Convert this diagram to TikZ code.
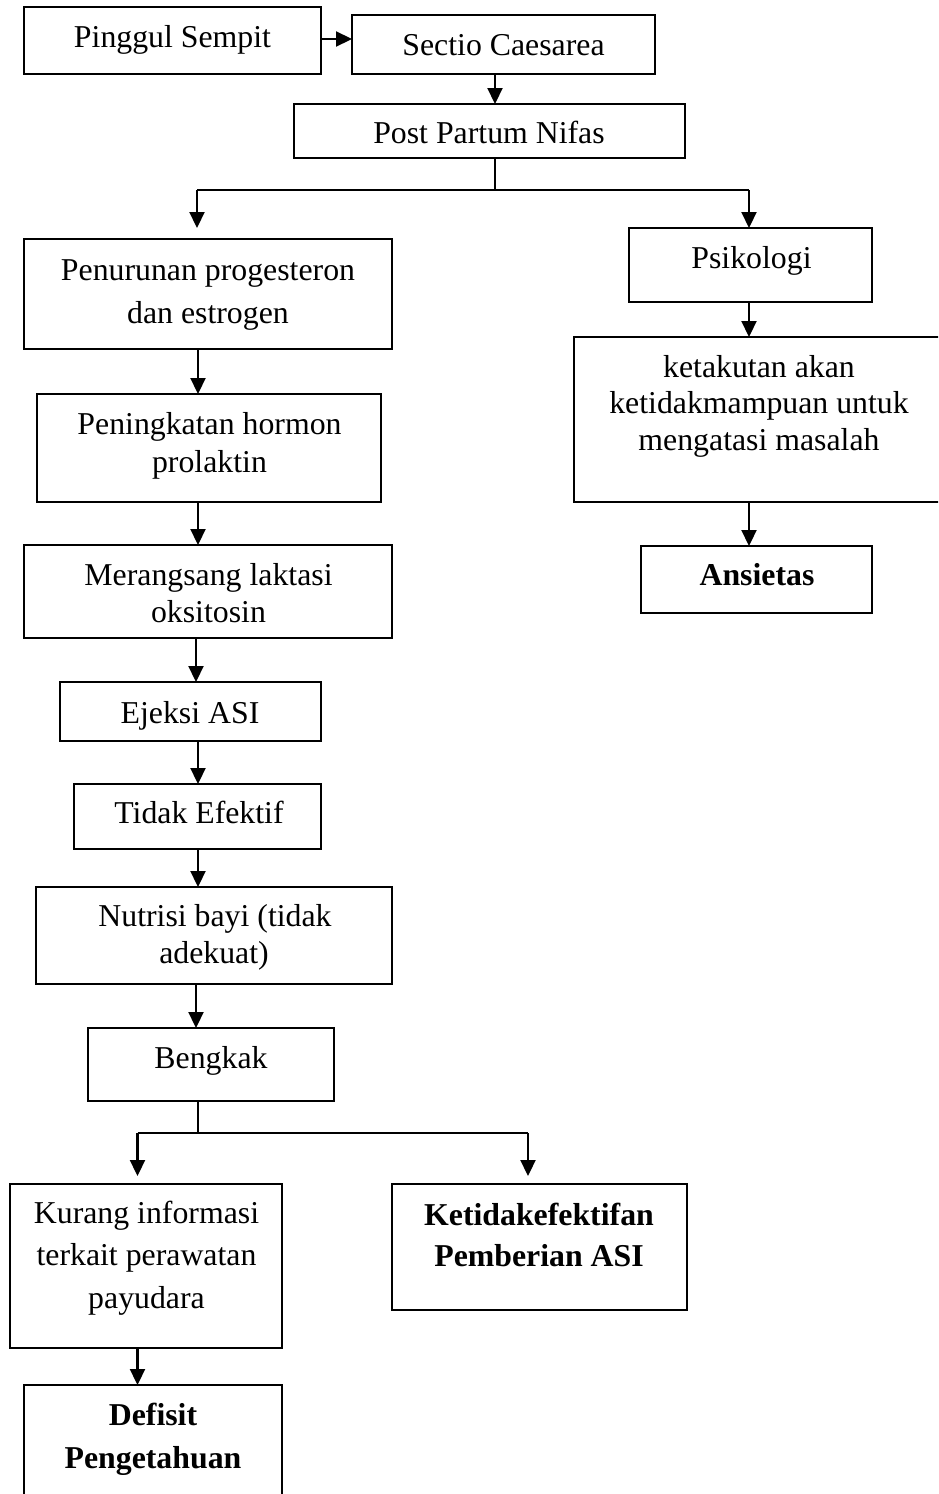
\documentclass[tikz,border=0pt]{standalone}
\usepackage{fontspec}
\setmainfont{Liberation Serif}
\usetikzlibrary{arrows.meta}
\begin{document}
\begin{tikzpicture}[x=1pt,y=-1pt,
  box/.style={draw, line width=1.8pt, rectangle, inner sep=0pt, outer sep=0pt},
  txt/.style={anchor=base, inner sep=0pt, font=\fontsize{31.8}{38}\selectfont},
  btxt/.style={anchor=base, inner sep=0pt, font=\fontsize{31.8}{38}\selectfont\bfseries},
  arr/.style={line width=2.2pt, -{Triangle[length=16pt,width=15pt]}},
  ln/.style={line width=1.6pt}]
\useasboundingbox (0,0) rectangle (938,1494);
\clip (0,0) rectangle (938,1494);
% boxes
\node[box, minimum width=297pt, minimum height=67pt]  (pinggul)     at (172.5,40.5) {};
\node[box, minimum width=303pt, minimum height=59pt]  (sectio)      at (503.5,44.5) {};
\node[box, minimum width=391pt, minimum height=54pt]  (postpartum)  at (489.5,131) {};
\node[box, minimum width=368pt, minimum height=110pt] (penurunan)   at (208,294) {};
\node[box, minimum width=243pt, minimum height=74pt]  (psikologi)   at (750.5,265) {};
\node[box, minimum width=371pt, minimum height=165pt] (ketakutan)   at (759.5,419.5) {};
\node[box, minimum width=231pt, minimum height=67pt]  (ansietas)    at (756.5,579.5) {};
\node[box, minimum width=344pt, minimum height=108pt] (peningkatan) at (209,448) {};
\node[box, minimum width=368pt, minimum height=93pt]  (merangsang)  at (208,591.5) {};
\node[box, minimum width=261pt, minimum height=59pt]  (ejeksi)      at (190.5,711.5) {};
\node[box, minimum width=247pt, minimum height=65pt]  (tidak)       at (197.5,816.5) {};
\node[box, minimum width=356pt, minimum height=97pt]  (nutrisi)     at (214,935.5) {};
\node[box, minimum width=246pt, minimum height=73pt]  (bengkak)     at (211,1064.5) {};
\node[box, minimum width=272pt, minimum height=164pt] (kurang)      at (146,1266) {};
\node[box, minimum width=295pt, minimum height=126pt] (ketidak)     at (539.5,1247) {};
\node[box, minimum width=258pt, minimum height=125pt] (defisit)     at (153,1447.5) {};
% texts
\node[txt] (t1)  at (172.5,47) {Pinggul Sempit};
\node[txt] (t2)  at (503.5,55) {Sectio Caesarea};
\node[txt] (t3)  at (489,143) {Post Partum Nifas};
\node[txt] (t4a) at (208,280) {Penurunan progesteron};
\node[txt] (t4b) at (208,323) {dan estrogen};
\node[txt] (t5)  at (751.5,268) {Psikologi};
\node[txt] (t6a) at (759,377) {ketakutan akan};
\node[txt] (t6b) at (759,413) {ketidakmampuan untuk};
\node[txt] (t6c) at (759,450) {mengatasi masalah};
\node[btxt] (t7) at (757,585) {Ansietas};
\node[txt] (t8a) at (209.5,434) {Peningkatan hormon};
\node[txt] (t8b) at (209.5,472) {prolaktin};
\node[txt] (t9a) at (208.5,585) {Merangsang laktasi};
\node[txt] (t9b) at (208.5,622) {oksitosin};
\node[txt] (t10) at (190,723) {Ejeksi ASI};
\node[txt] (t11) at (199,823) {Tidak Efektif};
\node[txt] (t12a) at (215,926) {Nutrisi bayi (tidak};
\node[txt] (t12b) at (214,963) {adekuat)};
\node[txt] (t13) at (211,1068) {Bengkak};
\node[txt] (t14a) at (146.5,1223) {Kurang informasi};
\node[txt] (t14b) at (146.5,1265) {terkait perawatan};
\node[txt] (t14c) at (146.5,1308) {payudara};
\node[btxt] (t15a) at (539,1225) {Ketidakefektifan};
\node[btxt] (t15b) at (539,1266) {Pemberian ASI};
\node[btxt] (t16a) at (153,1425) {Defisit};
\node[btxt] (t16b) at (153,1468) {Pengetahuan};
% junction coordinates
\coordinate (jA)  at (495,190);
\coordinate (jAl) at (197,190);
\coordinate (jAr) at (749,190);
\coordinate (jB)  at (198,1133);
\coordinate (jBl) at (137.5,1133);
\coordinate (jBr) at (528,1133);
% connectors
\draw[arr] (pinggul.east |- 0,39) -- (sectio.west |- 0,39);
\draw[arr] (sectio.south -| 495,0) -- (postpartum.north -| 495,0);
\draw[ln] (postpartum.south -| jA) -- (jA);
\draw[ln] (jAl) -- (jAr);
\draw[arr, shorten >=11pt] (jAl) -- (penurunan.north -| jAl);
\draw[arr] (jAr) -- (psikologi.north -| jAr);
\draw[arr] (psikologi.south -| 749,0) -- (ketakutan.north -| 749,0);
\draw[arr] (ketakutan.south -| 749,0) -- (ansietas.north -| 749,0);
\draw[arr] (penurunan.south -| 198,0) -- (peningkatan.north -| 198,0);
\draw[arr] (peningkatan.south -| 198,0) -- (merangsang.north -| 198,0);
\draw[arr] (merangsang.south -| 196,0) -- (ejeksi.north -| 196,0);
\draw[arr] (ejeksi.south -| 198,0) -- (tidak.north -| 198,0);
\draw[arr] (tidak.south -| 198,0) -- (nutrisi.north -| 198,0);
\draw[arr] (nutrisi.south -| 196,0) -- (bengkak.north -| 196,0);
\draw[ln] (bengkak.south -| jB) -- (jB);
\draw[ln] (jBl) -- (jBr);
\draw[arr, shorten >=8pt] (jBl) -- (kurang.north -| jBl);
\draw[arr, shorten >=8pt] (jBr) -- (ketidak.north -| jBr);
\draw[arr] (kurang.south -| 137.5,0) -- (defisit.north -| 137.5,0);
\end{tikzpicture}
\end{document}
